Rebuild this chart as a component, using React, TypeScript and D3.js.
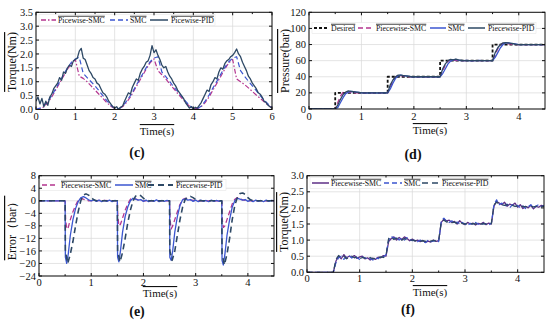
import React from "react";
import * as d3 from "d3";

type Pt = [number, number];

// ---------- (c) torque tracking, 0..6 s ----------
const timeC10 = d3.range(61).map((i) => i / 10);
const timeC05 = d3.range(121).map((i) => i / 20);

const pwSmcC = [
  0.0, 0.02, 0.1, 0.25, 0.45, 0.7, 0.95, 1.2, 1.45, 1.65,
  1.8, 1.2, 1.12, 1.0, 0.85, 0.7, 0.55, 0.4, 0.25, 0.12,
  0.04, 0.02, 0.1, 0.25, 0.45, 0.7, 0.95, 1.2, 1.45, 1.68,
  1.82, 1.4, 1.25, 1.1, 0.92, 0.75, 0.58, 0.42, 0.26, 0.12,
  0.04, 0.03, 0.1, 0.25, 0.45, 0.7, 0.95, 1.2, 1.45, 1.68,
  1.8, 1.1, 1.0, 0.9, 0.78, 0.65, 0.52, 0.4, 0.28, 0.15,
  0.06,
];
const smcC = [
  0.0, 0.05, 0.15, 0.3, 0.5, 0.75, 1.0, 1.25, 1.5, 1.7,
  1.82, 1.88, 1.3, 1.15, 1.0, 0.85, 0.68, 0.5, 0.32, 0.16,
  0.05, 0.02, 0.12, 0.3, 0.5, 0.75, 1.0, 1.25, 1.5, 1.72,
  1.85, 1.9, 1.35, 1.18, 1.0, 0.82, 0.65, 0.48, 0.3, 0.15,
  0.05, 0.03, 0.12, 0.3, 0.52, 0.78, 1.02, 1.28, 1.52, 1.72,
  1.85, 1.9, 1.4, 1.2, 1.02, 0.85, 0.68, 0.5, 0.34, 0.2,
  0.08,
];
const pwPidC = [
  0.3, 0.45, 0.2, 0.4, 0.1, 0.3, 0.15, 0.45, 0.55, 0.75, 0.85, 0.95, 1.15, 1.05, 1.35, 1.3, 1.5, 1.6, 1.55, 1.75,
  1.8, 1.85, 2.1, 2.2, 1.85, 1.8, 1.6, 1.4, 1.3, 1.15, 1.1, 0.95, 0.9, 0.75, 0.6, 0.55, 0.45, 0.3, 0.2, 0.1,
  0.05, 0.1, 0.0, 0.08, 0.12, 0.3, 0.45, 0.6, 0.55, 0.8, 0.95, 1.1, 1.05, 1.3, 1.45, 1.55, 1.7, 1.75, 1.95, 2.3,
  2.05, 2.15, 1.95, 1.8, 1.6, 1.5, 1.55, 1.35, 1.2, 1.1, 0.95, 0.85, 0.7, 0.6, 0.5, 0.4, 0.25, 0.15, 0.05, 0.1,
  0.02, 0.08, 0.05, 0.15, 0.25, 0.4, 0.55, 0.7, 0.65, 0.9, 1.0, 1.15, 1.1, 1.35, 1.5, 1.45, 1.65, 1.75, 1.8, 1.9,
  1.95, 2.05, 2.18, 2.0, 1.9, 1.7, 1.55, 1.4, 1.2, 1.1, 0.95, 0.85, 0.75, 0.6, 0.55, 0.45, 0.3, 0.25, 0.15, 0.1,
  0.05,
];

// ---------- (d) pressure, (f) torque: 0..4.5 s every 0.05 s ----------
const time05 = d3.range(91).map((i) => i / 20);

const desiredD: Pt[] = [
  [0, 0], [0.5, 0], [0.5, 20], [1.5, 20], [1.5, 40], [2.5, 40],
  [2.5, 60], [3.5, 60], [3.5, 80], [4.5, 80],
];
const pwSmcD = [
  0, 0, 0, 0, 0, 0, 0, 0, 0, 0, 0,
  8, 16, 20.5, 21.5, 21, 20.5,
  20.2, 20, 20, 20, 20, 20, 20, 20, 20, 20, 20, 20, 20, 20,
  27, 35, 40, 41.5, 41.5, 41, 40.5,
  40, 40, 40, 40, 40, 40, 40, 40, 40, 40, 40, 40, 40,
  47, 55, 59.5, 61, 60.5, 60.5, 60,
  60, 60, 60, 60, 60, 60, 60, 60, 60, 60, 60, 60, 60,
  67, 75, 80, 81.5, 81.5, 81, 80.5,
  80, 80, 80, 80, 80, 80, 80, 80, 80, 80, 80, 80, 80,
];
const smcD = [
  0, 0, 0, 0, 0, 0, 0, 0, 0, 0, 0,
  2, 8, 14, 19, 21, 22, 21.5, 21, 20.5,
  20, 20, 19.8, 20, 20, 20, 19.8, 20, 20, 20, 20,
  25, 32, 38, 41, 42, 41.5, 41, 40.5,
  40, 40, 40.2, 40, 40, 39.8, 40, 40, 40, 40, 40, 40,
  44, 50, 56, 59.5, 61, 61.5, 60.5, 60,
  60, 60.3, 60, 59.8, 60, 60, 60.2, 60, 60, 60, 60, 60,
  64, 70, 76, 80, 82, 82, 81.5, 81,
  80.5, 80, 80, 80, 80, 80, 80, 80, 80, 80, 80, 80,
];
const pwPidD = [
  0, 0, 0, 0, 0, 0, 0, 0, 0, 0, 0,
  5, 12, 18, 21, 22.5, 22, 21.5, 21, 20.5,
  20, 20, 20, 20, 20, 20, 20, 20, 20, 20, 20,
  30, 36, 40, 42, 42, 41.5, 41, 40.5,
  40, 40, 40, 40, 40, 40, 40, 40, 40, 40, 40, 40,
  50, 56, 60, 61.5, 61, 62, 61, 60.5,
  60, 60, 60, 60, 60, 60, 60, 60, 60, 60, 60, 60,
  70, 76, 80, 82, 82.5, 82, 81.5, 81,
  80, 80, 80, 80, 80, 80, 80, 80, 80, 80, 80, 80,
];

// ---------- (e) pressure error ----------
const pwSmcE: Pt[] = [
  [0, 0], [0.5, 0], [0.51, -6], [0.53, -9], [0.56, -8.5], [0.6, -6], [0.65, -3.5], [0.7, -1.5], [0.75, 0.2], [0.8, 0.8], [0.85, 0.5], [0.95, 0], [1.2, 0.1], [1.5, 0],
  [1.51, -5], [1.53, -8], [1.56, -7.5], [1.6, -5.5], [1.65, -3], [1.7, -1], [1.75, 0.5], [1.8, 0.9], [1.9, 0.3], [2.0, 0], [2.5, 0],
  [2.51, -6], [2.53, -9], [2.56, -8], [2.6, -6], [2.65, -3.5], [2.7, -1.2], [2.75, 0.4], [2.8, 0.8], [2.9, 0.3], [3.0, 0], [3.5, 0],
  [3.51, -6], [3.53, -8.5], [3.56, -8], [3.6, -6], [3.65, -3.5], [3.7, -1], [3.75, 0.5], [3.8, 1.0], [3.9, 0.3], [4.0, 0], [4.5, 0],
];
const smcE: Pt[] = [
  [0, 0], [0.5, 0], [0.505, -18], [0.53, -20], [0.56, -17], [0.6, -11], [0.65, -6], [0.7, -2.5], [0.75, -0.3], [0.8, 0.9], [0.85, 1.3], [0.9, 0.9], [0.95, 0.3], [1.0, 0], [1.05, 0.3], [1.1, -0.2], [1.15, 0.2], [1.2, -0.3], [1.25, 0.1], [1.3, -0.2], [1.35, 0.2], [1.4, -0.3], [1.45, 0.1], [1.5, 0],
  [1.505, -18], [1.53, -19.5], [1.56, -16], [1.6, -10], [1.65, -5], [1.7, -2], [1.75, 0], [1.8, 0.8], [1.85, 0.5], [1.9, 0.2], [1.95, 0.4], [2.0, -0.2], [2.05, 0.2], [2.1, -0.3], [2.15, 0.1], [2.2, -0.2], [2.25, 0.3], [2.3, -0.3], [2.35, 0.1], [2.4, -0.2], [2.45, 0.1], [2.5, 0],
  [2.505, -18], [2.53, -19], [2.56, -16], [2.6, -10], [2.65, -5], [2.7, -1.5], [2.75, 0.3], [2.8, 0.6], [2.85, 0.2], [2.9, 0.4], [2.95, -0.2], [3.0, 0.2], [3.05, -0.3], [3.1, 0.2], [3.15, -0.2], [3.2, 0.1], [3.25, -0.3], [3.3, 0.2], [3.35, -0.2], [3.4, 0.1], [3.45, -0.2], [3.5, 0],
  [3.505, -19], [3.53, -20.5], [3.56, -17], [3.6, -11], [3.65, -6], [3.7, -2], [3.75, 0], [3.8, 0.8], [3.85, 0.5], [3.9, 0.2], [3.95, 0.4], [4.0, -0.2], [4.05, 0.2], [4.1, -0.3], [4.15, 0.2], [4.2, -0.2], [4.25, 0.1], [4.3, -0.3], [4.35, 0.2], [4.4, -0.2], [4.45, 0.1], [4.5, 0],
];
const pwPidE: Pt[] = [
  [0, 0], [0.5, 0], [0.505, -16], [0.55, -20], [0.6, -17], [0.65, -13], [0.7, -8], [0.75, -3.5], [0.8, 0], [0.85, 1.8], [0.9, 2.2], [0.95, 1.8], [1.0, 1.0], [1.05, 0.3], [1.1, 0], [1.5, 0],
  [1.505, -16], [1.55, -19.5], [1.6, -16.5], [1.65, -12], [1.7, -7], [1.75, -3], [1.8, 0], [1.85, 1.5], [1.9, 2.0], [1.95, 1.6], [2.0, 0.8], [2.05, 0.2], [2.1, 0], [2.5, 0],
  [2.505, -16], [2.55, -19], [2.6, -16], [2.65, -11], [2.7, -6], [2.75, -2], [2.8, 0.5], [2.85, 1.3], [2.9, 1.4], [2.95, 1.0], [3.0, 0.4], [3.1, 0], [3.5, 0],
  [3.505, -17], [3.55, -20.5], [3.6, -17], [3.65, -12], [3.7, -6], [3.75, -1.5], [3.8, 1.2], [3.85, 2.3], [3.9, 2.5], [3.95, 2.0], [4.0, 1.0], [4.05, 0.3], [4.1, 0], [4.5, 0],
];

// ---------- (f) torque under pressure steps ----------
const pwSmcF = [
  0, 0, 0, 0, 0, 0, 0, 0, 0, 0, 0,
  0.35, 0.5, 0.42, 0.55, 0.45, 0.5, 0.47, 0.52, 0.43, 0.48, 0.5, 0.42, 0.45, 0.38, 0.44, 0.4, 0.47, 0.45, 0.52, 0.5,
  0.95, 1.05, 1.1, 1.0, 1.08, 1.02, 1.1, 1.05, 0.98, 1.03, 0.97, 1.0, 0.95, 0.99, 0.93, 0.97, 0.94, 1.0, 0.96, 0.98,
  1.55, 1.65, 1.6, 1.62, 1.55, 1.58, 1.5, 1.6, 1.52, 1.48, 1.55, 1.5, 1.53, 1.47, 1.52, 1.5, 1.55, 1.48, 1.53, 1.5,
  2.05, 2.2, 2.15, 2.1, 2.18, 2.05, 2.12, 2.08, 2.15, 2.02, 2.1, 1.98, 2.05, 2.0, 2.08, 1.97, 2.05, 2.02, 2.08, 2.05,
];
const smcF = [
  0, 0, 0, 0, 0, 0, 0, 0, 0, 0, 0,
  0.3, 0.45, 0.5, 0.4, 0.48, 0.52, 0.44, 0.5, 0.46, 0.4, 0.47, 0.45, 0.4, 0.43, 0.38, 0.45, 0.42, 0.5, 0.48, 0.55,
  1.0, 1.12, 1.05, 1.1, 1.0, 1.06, 1.0, 1.08, 1.02, 0.98, 1.0, 0.95, 1.0, 0.96, 0.92, 1.0, 0.95, 0.97, 1.0, 0.95,
  1.6, 1.68, 1.58, 1.55, 1.6, 1.52, 1.56, 1.5, 1.55, 1.5, 1.45, 1.52, 1.48, 1.55, 1.5, 1.46, 1.52, 1.5, 1.47, 1.52,
  2.1, 2.25, 2.1, 2.15, 2.05, 2.12, 2.0, 2.1, 2.05, 2.08, 2.0, 2.06, 1.98, 2.04, 2.1, 2.0, 2.06, 2.1, 2.03, 2.08,
];
const pwPidF = [
  0, 0, 0, 0, 0, 0, 0, 0, 0, 0, 0,
  0.4, 0.52, 0.45, 0.5, 0.42, 0.46, 0.5, 0.45, 0.48, 0.42, 0.46, 0.44, 0.41, 0.46, 0.42, 0.44, 0.45, 0.48, 0.46, 0.52,
  1.05, 1.1, 1.02, 1.06, 1.04, 1.0, 1.05, 1.02, 1.0, 1.0, 0.98, 0.99, 0.97, 0.98, 0.96, 0.98, 0.97, 0.99, 0.97, 0.98,
  1.58, 1.62, 1.56, 1.58, 1.54, 1.56, 1.52, 1.55, 1.52, 1.5, 1.52, 1.5, 1.51, 1.5, 1.52, 1.5, 1.51, 1.5, 1.5, 1.51,
  2.1, 2.18, 2.12, 2.1, 2.08, 2.1, 2.06, 2.08, 2.05, 2.06, 2.04, 2.05, 2.03, 2.04, 2.05, 2.03, 2.05, 2.04, 2.05, 2.05,
];

const zip = (t: number[], v: number[]): Pt[] => t.map((ti, i) => [ti, v[i]]);

const FONT = "'Liberation Serif', 'Times New Roman', serif";

interface Style {
  color: string;
  width: number;
  dash?: string;
}
interface LineDef extends Style {
  data: Pt[];
}
interface LegendDef extends Style {
  label: string;
  x0: number;
  x1: number;
  tx: number;
}
interface PanelCfg {
  id: string;
  left: number;
  right: number;
  top: number;
  bottom: number;
  xMax: number;
  yDomain: [number, number];
  yStep: number;
  yFmt: string;
  yLabel: string;
  yLabelX: number;
  yLabelY: number;
  xTickDy: number;
  xTitleX: number;
  xTitleY: number;
  tag: string;
  tagX: number;
  tagY: number;
  lines: LineDef[];
  legendBox: [number, number];
  legendY: number;
  legend: LegendDef[];
}

function Panel(p: PanelCfg) {
  const x = d3.scaleLinear().domain([0, p.xMax]).range([p.left, p.right]);
  const y = d3.scaleLinear().domain(p.yDomain).range([p.bottom, p.top]);
  const line = d3
    .line<Pt>()
    .x((d) => x(d[0]))
    .y((d) => y(d[1]));
  const xMajor = d3.range(0, Math.floor(p.xMax) + 1);
  const xMinor = d3.range(0.5, p.xMax, 1);
  const yTicks = d3.range(p.yDomain[0], p.yDomain[1] + p.yStep / 2, p.yStep);
  const fmt = d3.format(p.yFmt);
  const tl = 3;

  return (
    <g fontFamily={FONT}>
      <defs>
        <clipPath id={`clip-${p.id}`}>
          <rect x={p.left} y={p.top} width={p.right - p.left} height={p.bottom - p.top} />
        </clipPath>
      </defs>
      {/* grid */}
      {xMajor.map((t) => (
        <line key={`gx${t}`} x1={x(t)} x2={x(t)} y1={p.top} y2={p.bottom} stroke="#d9d9d9" strokeWidth={0.7} />
      ))}
      {yTicks.map((v) => (
        <line key={`gy${v}`} x1={p.left} x2={p.right} y1={y(v)} y2={y(v)} stroke="#d9d9d9" strokeWidth={0.7} />
      ))}
      {/* curves */}
      <g clipPath={`url(#clip-${p.id})`}>
        {p.lines.map((l, i) => (
          <path
            key={i}
            d={line(l.data) || ""}
            fill="none"
            stroke={l.color}
            strokeWidth={l.width}
            strokeDasharray={l.dash}
            strokeLinejoin="round"
          />
        ))}
      </g>
      {/* legend */}
      <rect
        x={p.legendBox[0]}
        y={p.legendY - 5.5}
        width={p.legendBox[1] - p.legendBox[0]}
        height={11}
        fill="#fff"
        stroke="#e2e2e2"
        strokeWidth={0.5}
      />
      {p.legend.map((l) => (
        <g key={l.label}>
          <line
            x1={l.x0}
            x2={l.x1}
            y1={p.legendY}
            y2={p.legendY}
            stroke={l.color}
            strokeWidth={l.width + 0.2}
            strokeDasharray={l.dash}
          />
          <text
            x={l.tx}
            y={p.legendY + 2.8}
            fontSize={7.8}
            fill="#111"
            style={{ textDecoration: "overline" }}
          >
            {l.label}
          </text>
        </g>
      ))}
      {/* frame + ticks */}
      <rect
        x={p.left}
        y={p.top}
        width={p.right - p.left}
        height={p.bottom - p.top}
        fill="none"
        stroke="#111"
        strokeWidth={1}
      />
      {xMajor.map((t) => (
        <g key={`tx${t}`}>
          <line x1={x(t)} x2={x(t)} y1={p.bottom} y2={p.bottom - tl} stroke="#111" />
          <line x1={x(t)} x2={x(t)} y1={p.top} y2={p.top + tl} stroke="#111" />
          <text x={x(t)} y={p.bottom + p.xTickDy} fontSize={10.5} textAnchor="middle" fill="#111">
            {t}
          </text>
        </g>
      ))}
      {xMinor.map((t) => (
        <g key={`mx${t}`}>
          <line x1={x(t)} x2={x(t)} y1={p.bottom} y2={p.bottom - 1.8} stroke="#111" />
          <line x1={x(t)} x2={x(t)} y1={p.top} y2={p.top + 1.8} stroke="#111" />
        </g>
      ))}
      {yTicks.map((v) => (
        <g key={`ty${v}`}>
          <line x1={p.left} x2={p.left + tl} y1={y(v)} y2={y(v)} stroke="#111" />
          <line x1={p.right} x2={p.right - tl} y1={y(v)} y2={y(v)} stroke="#111" />
          <text x={p.left - 3} y={y(v) + 3.6} fontSize={10.5} textAnchor="end" fill="#111">
            {fmt(v)}
          </text>
        </g>
      ))}
      {/* titles */}
      <text
        transform={`translate(${p.yLabelX},${p.yLabelY}) rotate(-90)`}
        textAnchor="middle"
        fontSize={12}
        fill="#111"
        style={{ textDecoration: "overline" }}
      >
        {p.yLabel}
      </text>
      <text
        x={p.xTitleX}
        y={p.xTitleY}
        textAnchor="middle"
        fontSize={11}
        fill="#111"
        style={{ textDecoration: "overline" }}
      >
        Time(s)
      </text>
      <text x={p.tagX} y={p.tagY} textAnchor="middle" fontSize={14} fontWeight="bold" fill="#111">
        {p.tag}
      </text>
    </g>
  );
}

const MAG = "#b4358f";
const BLUE = "#3b56d0";
const DARK = "#2d4865";
const PURPLE = "#5e2f86";

export default function App() {
  const panels: PanelCfg[] = [
    {
      id: "c",
      left: 36, right: 272, top: 12.3, bottom: 109.5,
      xMax: 6, yDomain: [0, 3.5], yStep: 0.5, yFmt: ".1f",
      yLabel: "Torque(Nm)", yLabelX: 16, yLabelY: 62,
      xTickDy: 10, xTitleX: 157, xTitleY: 135,
      tag: "(c)", tagX: 137, tagY: 157,
      lines: [
        { data: zip(timeC10, pwSmcC), color: MAG, width: 1.2, dash: "5,2,1.5,2" },
        { data: zip(timeC10, smcC), color: BLUE, width: 1.2, dash: "5,3" },
        { data: zip(timeC05, pwPidC), color: DARK, width: 1.3 },
      ],
      legendBox: [39, 215], legendY: 20,
      legend: [
        { label: "Picewise-SMC", color: MAG, width: 1.2, dash: "5,2,1.5,2", x0: 41, x1: 56, tx: 58 },
        { label: "SMC", color: BLUE, width: 1.2, dash: "5,3", x0: 110, x1: 128, tx: 130 },
        { label: "Picewise-PID", color: DARK, width: 1.3, x0: 150, x1: 168, tx: 171 },
      ],
    },
    {
      id: "d",
      left: 309, right: 545, top: 12.3, bottom: 109,
      xMax: 4.5, yDomain: [0, 120], yStep: 20, yFmt: "d",
      yLabel: "Pressure(bar)", yLabelX: 289, yLabelY: 61,
      xTickDy: 10.5, xTitleX: 430, xTitleY: 134,
      tag: "(d)", tagX: 413, tagY: 159,
      lines: [
        { data: desiredD, color: "#111", width: 1.8, dash: "3,2" },
        { data: zip(time05, pwSmcD), color: MAG, width: 1.3, dash: "5,3" },
        { data: zip(time05, smcD), color: BLUE, width: 1.3 },
        { data: zip(time05, pwPidD), color: DARK, width: 1.3 },
      ],
      legendBox: [312, 536], legendY: 28,
      legend: [
        { label: "Desired", color: "#111", width: 1.8, dash: "3,2", x0: 314, x1: 329, tx: 331 },
        { label: "Piecewise-SMC", color: MAG, width: 1.3, dash: "5,3", x0: 358, x1: 373, tx: 376 },
        { label: "SMC", color: BLUE, width: 1.3, x0: 430, x1: 446, tx: 448 },
        { label: "Piecewise-PID", color: DARK, width: 1.3, x0: 468, x1: 485, tx: 488 },
      ],
    },
    {
      id: "e",
      left: 39, right: 274, top: 175.7, bottom: 276,
      xMax: 4.5, yDomain: [-24, 8], yStep: 4, yFmt: "d",
      yLabel: "Error（bar）", yLabelX: 16, yLabelY: 228,
      xTickDy: 9.5, xTitleX: 160, xTitleY: 297,
      tag: "(e)", tagX: 137, tagY: 316,
      lines: [
        { data: pwSmcE, color: MAG, width: 1.3, dash: "5,3" },
        { data: smcE, color: BLUE, width: 1.3 },
        { data: pwPidE, color: DARK, width: 1.6, dash: "6,4" },
      ],
      legendBox: [40, 226], legendY: 185,
      legend: [
        { label: "Piecewise-SMC", color: MAG, width: 1.3, dash: "5,3", x0: 42, x1: 58, tx: 61 },
        { label: "SMC", color: BLUE, width: 1.3, x0: 115, x1: 133, tx: 135 },
        { label: "Piecewise-PID", color: DARK, width: 1.6, dash: "6,4", x0: 148, x1: 173, tx: 176 },
      ],
    },
    {
      id: "f",
      left: 307, right: 544, top: 175.7, bottom: 272.3,
      xMax: 4.5, yDomain: [0, 3], yStep: 0.5, yFmt: ".1f",
      yLabel: "Torque(Nm)", yLabelX: 288, yLabelY: 222,
      xTickDy: 10, xTitleX: 430, xTitleY: 296,
      tag: "(f)", tagX: 408, tagY: 314,
      lines: [
        { data: zip(time05, pwSmcF), color: PURPLE, width: 1.3 },
        { data: zip(time05, smcF), color: BLUE, width: 1.2, dash: "5,3" },
        { data: zip(time05, pwPidF), color: DARK, width: 1.3, dash: "6,4" },
      ],
      legendBox: [310, 489], legendY: 183,
      legend: [
        { label: "Piecewise-SMC", color: PURPLE, width: 1.3, x0: 312, x1: 329, tx: 331 },
        { label: "SMC", color: BLUE, width: 1.2, dash: "5,3", x0: 384, x1: 402, tx: 404 },
        { label: "Piecewise-PID", color: DARK, width: 1.3, dash: "6,4", x0: 422, x1: 440, tx: 442 },
      ],
    },
  ];

  return (
    <svg
      width={550}
      height={330}
      style={{ position: "absolute", left: 0, top: 0, background: "#fff" }}
    >
      <rect width={550} height={330} fill="#fff" />
      {panels.map((p) => (
        <Panel key={p.id} {...p} />
      ))}
    </svg>
  );
}
